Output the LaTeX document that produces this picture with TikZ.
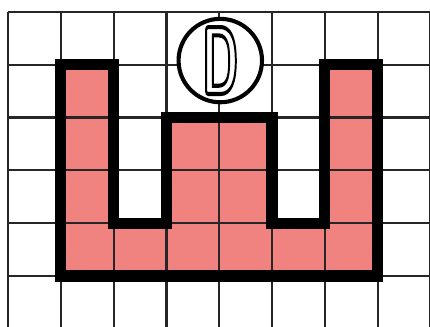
\documentclass[tikz,border=0pt]{standalone}
\usepackage{xcolor}
\usepackage{graphicx}
\definecolor{roomfill}{RGB}{240,130,128}
\tikzset{
  gridline/.style   = {line width=1.2pt, black!85},
  wall/.style       = {line width=6pt, line join=miter, black},
  roomarea/.style   = {fill=roomfill},
  doorcircle/.style = {circle, draw, line width=2.2pt, fill=white,
                       minimum size=1.58cm, inner sep=0pt}
}
% stroked (hollow) letter
\newcommand{\hollowtext}[1]{\special{pdf:literal direct 1 Tr 2.2 w}#1\special{pdf:literal direct 0 Tr}}

\begin{document}
\begin{tikzpicture}
  \useasboundingbox (-0.152,0.034) rectangle (7.992,6.227);
  \clip (-0.152,0.034) rectangle (7.992,6.227);
  % room
  \fill[roomarea] (1,5) -- (2,5) -- (2,2) -- (3,2) -- (3,4) -- (5,4) -- (5,2)
    -- (6,2) -- (6,5) -- (7,5) -- (7,1) -- (1,1) -- cycle;
  % grid
  \foreach \x in {0,...,8}
    \draw[gridline] (\x,6) -- (\x,-0.5);
  \foreach \y in {0,...,6}
    \draw[gridline] (0,\y) -- (8.5,\y);
  % walls
  \draw[wall] (1,5) -- (2,5) -- (2,2) -- (3,2) -- (3,4) -- (5,4) -- (5,2)
    -- (6,2) -- (6,5) -- (7,5) -- (7,1) -- (1,1) -- cycle;
  % door marker
  \node[doorcircle] (door) at (4.02,5.08)
    {\hollowtext{\scalebox{0.48}[1]{\fontsize{52}{52}\selectfont\sffamily\bfseries D}}};
\end{tikzpicture}
\end{document}
